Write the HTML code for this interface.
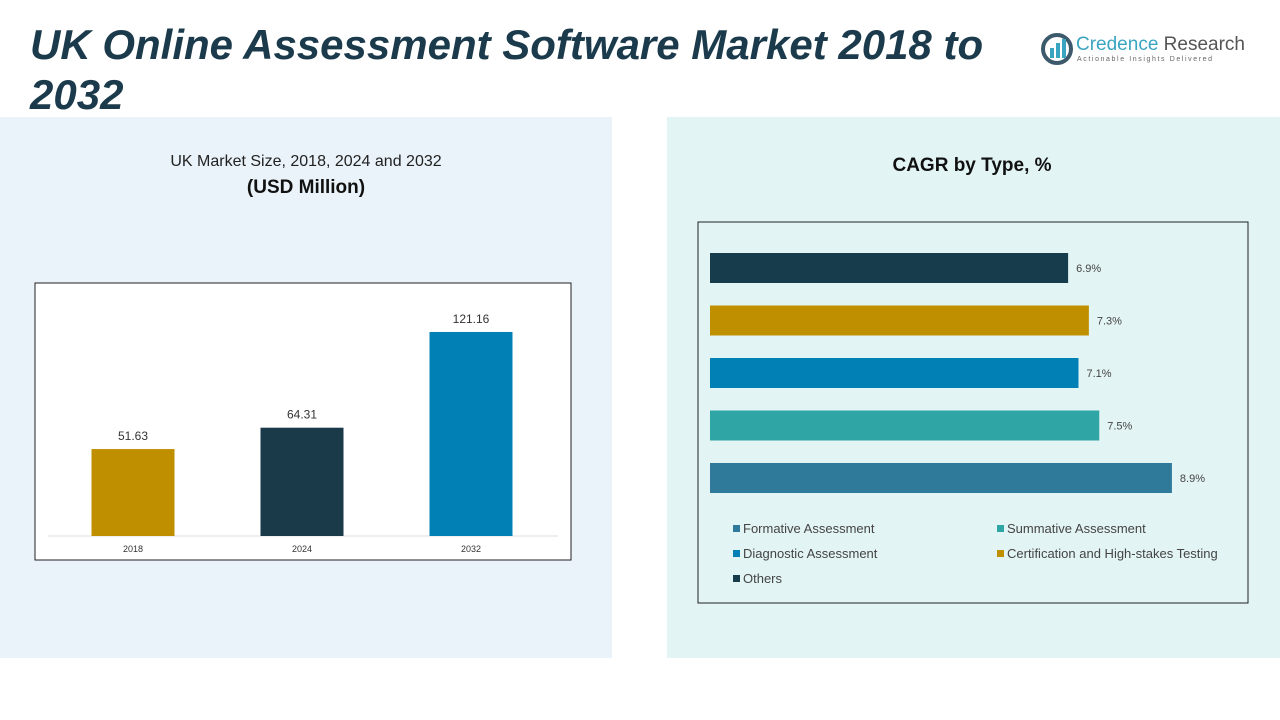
<!DOCTYPE html>
<html><head><meta charset="utf-8"><style>
body{margin:0;width:1280px;height:720px;background:#fff;font-family:"Liberation Sans",sans-serif;position:relative;overflow:hidden}
.abs{position:absolute}
</style></head><body>
<div class="abs" style="left:0;top:117px;width:612px;height:541px;background:#eaf3f9"></div>
<div class="abs" style="left:667px;top:117px;width:613px;height:541px;background:#e3f4f4"></div>
<div class="abs" style="left:30px;top:20px;width:1000px;font-size:42px;letter-spacing:0px;font-weight:bold;font-style:italic;color:#1b3a4b;line-height:50px">UK Online Assessment Software Market 2018 to 2032</div>
<div class="abs" style="left:1040px;top:32px;width:220px;height:40px">
<svg width="34" height="34" viewBox="0 0 34 34" style="position:absolute;left:0;top:0"><circle cx="17" cy="17" r="14" fill="none" stroke="#3d5a6c" stroke-width="4"/><rect x="10" y="16" width="4" height="10" fill="#3aa5c0"/><rect x="16" y="11" width="4" height="15" fill="#3aa5c0"/><rect x="22" y="7" width="4" height="19" fill="#3aa5c0"/></svg>
<div class="abs" style="left:36px;top:2px;font-size:19px;color:#3aa5c0;white-space:nowrap">Credence <span style="color:#555">Research</span></div>
<div class="abs" style="left:37px;top:24px;font-size:7px;letter-spacing:1.6px;color:#666;white-space:nowrap">Actionable Insights Delivered</div>
</div>
<div class="abs" style="left:0;top:153px;width:612px;text-align:center;font-size:16px;color:#222">UK Market Size, 2018, 2024 and 2032</div>
<div class="abs" style="left:0;top:177px;width:612px;text-align:center;font-size:19px;font-weight:bold;color:#111">(USD Million)</div>
<div class="abs" style="left:822px;top:155px;width:300px;text-align:center;font-size:19px;font-weight:bold;color:#111">CAGR by Type, %</div>
<svg class="abs" style="left:0;top:0" width="1280" height="720" id="chart">
<rect x="35" y="283" width="536" height="277" fill="#fff" stroke="#222" stroke-width="1"/>
<line x1="48" y1="536" x2="558" y2="536" stroke="#ddd"/>
<rect x="698" y="222" width="550" height="381" fill="#e3f4f4" stroke="#222" stroke-width="1"/>
<g id="left"></g><g id="right"></g>
</svg>
<script>
const years=["2018","2024","2032"];
const sizes=[51.63,64.31,121.16];
const yearColors=["#c08f00","#1a3a4a","#0080b4"];
const types=["Others","Certification and High-stakes Testing","Diagnostic Assessment","Summative Assessment","Formative Assessment"];
const cagr=[6.9,7.3,7.1,7.5,8.9];
const typeColors=["#173d4c","#c08f00","#0080b4","#30a5a5","#2f7a9a"];
const NS="http://www.w3.org/2000/svg";
function mk(t,a,p){const e=document.createElementNS(NS,t);for(const k in a)e.setAttribute(k,a[k]);p.appendChild(e);return e;}
const L=document.getElementById('left'),R=document.getElementById('right');
const y=v=>536-v*1.684, xc=i=>133+i*169;
years.forEach((yr,i)=>{
 const b=mk('rect',{x:xc(i)-41.5,y:y(sizes[i]),width:83,height:536-y(sizes[i]),fill:yearColors[i]},L);
 
 
 const t=mk('text',{x:xc(i),y:y(sizes[i])-9,'text-anchor':'middle','font-size':12,fill:'#333'},L);t.textContent=sizes[i].toFixed(2);
 
 
 const c=mk('text',{x:xc(i),y:552,'text-anchor':'middle','font-size':9,fill:'#333'},L);c.textContent=yr;
 
 
});
const xw=v=>v*51.9, yb=i=>253+i*52.5;
types.forEach((ty,i)=>{
 const b=mk('rect',{x:710,y:yb(i),width:xw(cagr[i]),height:30,fill:typeColors[i]},R);
 
 
 const t=mk('text',{x:718+xw(cagr[i]),y:yb(i)+19,'font-size':11,fill:'#444'},R);t.textContent=cagr[i]+'%';
 
 
});
const legOrder=[4,3,2,1,0];
legOrder.forEach((k,j)=>{
 const lx=j%2?997:733, ly=529+Math.floor(j/2)*25;
 mk('rect',{x:lx,y:ly-4,width:7,height:7,fill:typeColors[k]},R);
 const t=mk('text',{x:lx+10,y:ly+4,'font-size':13,fill:'#444'},R);t.textContent=types[k];
 
 
});
</script>
</body></html>
